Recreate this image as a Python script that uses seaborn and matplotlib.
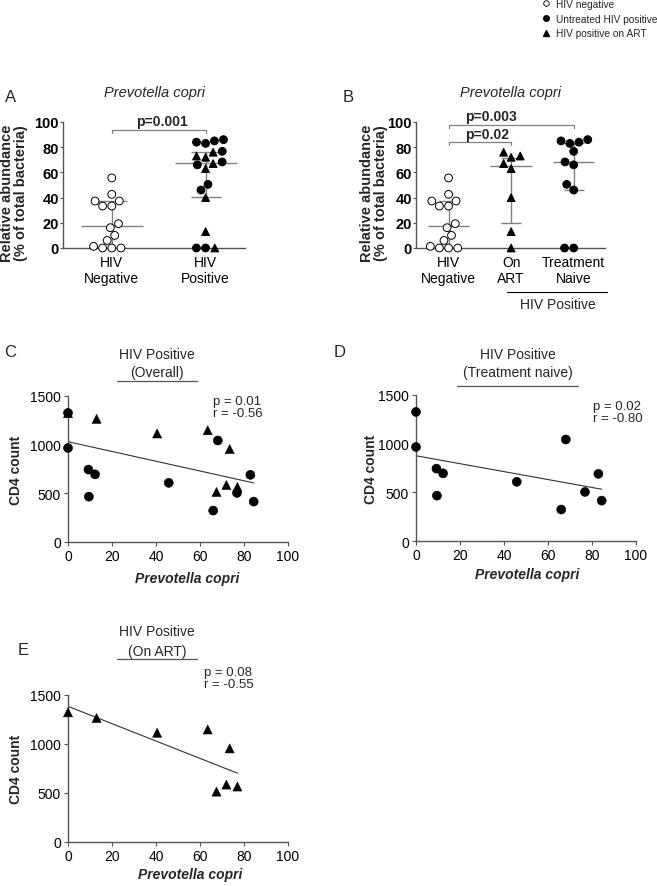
import numpy as np
import pandas as pd
import matplotlib
matplotlib.use("Agg")
import matplotlib.pyplot as plt
import seaborn as sns
from matplotlib.markers import MarkerStyle
from matplotlib.lines import Line2D

# Prevotella copri relative abundance (% of total bacteria)
neg_copri = [55.6, 42.6, 37.3, 37.3, 33.3, 33.3, 19.3, 16.1, 10, 6, 0, 0, 0, 1.3]
naive_copri = [86, 83, 84, 85, 76.7, 66, 68.3, 50.5, 46, 0, 0]
art_copri = [76, 72, 73, 67, 63, 40, 13, 0]

# median / interquartile range drawn on the dot plots
groups_A = ["HIV\nNegative", "HIV\nPositive"]
med_A = [17.5, 67.5]
q1_A = [0, 40.5]
q3_A = [37.5, 76.5]

groups_B = ["HIV\nNegative", "On\nART", "Treatment\nNaive"]
med_B = [17.5, 65, 68.3]
q1_B = [0, 20, 46.3]
q3_B = [37.5, 71.5, 83]

# CD4 count vs P. copri
naive_x = [0, 0, 9.3, 12.3, 9.5, 45.8, 68.1, 66, 76.8, 82.9, 84.4]
naive_cd4 = [1326, 966, 744, 695, 466, 608, 1043, 323, 504, 690, 415]
art_x = [0, 13, 40.5, 63.5, 73.5, 67.5, 72, 77]
art_cd4 = [1323, 1265, 1115, 1148, 955, 514, 586, 566]

stat_labels = ["p = 0.01\nr = -0.56", "p = 0.02\nr = -0.80", "p = 0.08\nr = -0.55"]
cd4_titles = ["(Overall)", "(Treatment naive)", "(On ART)"]

sns.set_style("ticks")
plt.rcParams["font.family"] = ["Liberation Sans", "DejaVu Sans"]

W, H = 657, 887
def fx(x):
    return x / W
def fy(y):
    return 1 - y / H

GRAY = "#555555"
LGRAY = "#808080"

fig = plt.figure(figsize=(6.57, 8.87), dpi=100)

def mk_path(m):
    ms = MarkerStyle(m)
    return ms.get_path().transformed(ms.get_transform())

CIRC = mk_path("o")
TRI = mk_path("^")
pal = {"neg": "white", "naive": "black", "art": "black"}


def style_axes(ax):
    sns.despine(ax=ax)
    for s in ["left", "bottom"]:
        ax.spines[s].set_color(GRAY)
        ax.spines[s].set_linewidth(1.0)
    ax.tick_params(colors=GRAY, labelcolor="black", width=0.8, length=3)


def dot_panel(ax, df, order, med, q1, q3, xmax):
    sns.swarmplot(data=df, x="group", y="copri", hue="status", order=order,
                  palette=pal, edgecolor="black", linewidth=0.7, size=5.6,
                  legend=False, ax=ax, clip_on=False, zorder=3)
    for coll, g in zip(ax.collections, order):
        kinds = df.loc[df.group == g, "status"]
        coll.set_paths([TRI if k == "art" else CIRC for k in kinds])
        coll.set_clip_on(False)
    for i, (m, a, b) in enumerate(zip(med, q1, q3)):
        ax.hlines(m, i - 0.33, i + 0.33, color=LGRAY, lw=1, zorder=2)
        ax.vlines(i, a, b, color=LGRAY, lw=1, zorder=2)
        ax.hlines([a, b], i - 0.16, i + 0.16, color=LGRAY, lw=1, zorder=2)
    ax.set_ylim(0, 100)
    ax.set_xlim(-0.52, xmax)
    ax.set_yticks(range(0, 101, 20))
    style_axes(ax)
    ax.tick_params(axis="x", length=0, pad=5, labelsize=10)
    ax.tick_params(axis="y", labelsize=10.5, length=2, pad=1)
    for lbl in ax.get_yticklabels():
        lbl.set_fontweight("bold")
    ax.set_xlabel("")
    ax.set_ylabel("Relative abundance\n(% of total bacteria)", fontsize=10.5,
                  fontweight="bold", linespacing=1.0)
    ax.set_title("Prevotella copri", style="italic", fontsize=10.5, pad=19)


def bracket(ax, x0, x1, y, txt, tx):
    ax.plot([x0, x0, x1, x1], [y - 2.5, y, y, y - 2.5], color=LGRAY, lw=0.9,
            clip_on=False)
    ax.text(tx, y + 1.2, txt, fontsize=10, fontweight="bold", ha="left",
            va="bottom")


# ---- A ----
dfA = pd.DataFrame({
    "group": [groups_A[0]] * len(neg_copri) + [groups_A[1]] * (len(naive_copri) + len(art_copri)),
    "status": ["neg"] * len(neg_copri) + ["naive"] * len(naive_copri) + ["art"] * len(art_copri),
    "copri": neg_copri + naive_copri + art_copri,
})
axA = fig.add_axes([fx(63), fy(249), 182 / W, 126 / H])
dot_panel(axA, dfA, groups_A, med_A, q1_A, q3_A, 1.42)
axA.yaxis.set_label_coords(-0.19, 0.44)
bracket(axA, 0, 1, 94, "p=0.001", 0.26)

# ---- B ----
dfB = pd.DataFrame({
    "group": [groups_B[0]] * len(neg_copri) + [groups_B[1]] * len(art_copri) + [groups_B[2]] * len(naive_copri),
    "status": ["neg"] * len(neg_copri) + ["art"] * len(art_copri) + ["naive"] * len(naive_copri),
    "copri": neg_copri + art_copri + naive_copri,
})
axB = fig.add_axes([fx(416), fy(249), 189 / W, 126 / H])
dot_panel(axB, dfB, groups_B, med_B, q1_B, q3_B, 2.5)
axB.yaxis.set_label_coords(-0.15, 0.44)
bracket(axB, 0, 2, 98, "p=0.003", 0.26)
bracket(axB, 0, 1, 84, "p=0.02", 0.26)
fig.add_artist(Line2D([fx(507), fx(607)], [fy(293)] * 2, color="black", lw=0.8))
fig.text(fx(558), fy(305), "HIV Positive", ha="center", va="center", fontsize=10)


# ---- C, D, E ----
def cd4_panel(ax, d, stat, tx, ty, xlab, ylab_x):
    sns.scatterplot(data=d, x="copri", y="cd4", style="status",
                    markers={"naive": "o", "art": "^"}, color="black", s=42,
                    edgecolor="black", linewidth=0.4, legend=False, ax=ax,
                    clip_on=False, zorder=3)
    sns.regplot(data=d, x="copri", y="cd4", scatter=False, ci=None,
                truncate=True, color="#333333", line_kws={"lw": 0.8}, ax=ax)
    ax.set_xlim(0, 100)
    ax.set_ylim(0, 1500)
    ax.set_xticks(range(0, 101, 20))
    ax.set_yticks([0, 500, 1000, 1500])
    style_axes(ax)
    ax.tick_params(labelsize=10, pad=2)
    ax.set_xlabel("Prevotella copri", fontsize=10, fontweight="bold",
                  style="italic")
    ax.set_ylabel("CD4 count", fontsize=10, fontweight="bold")
    ax.xaxis.set_label_coords(*xlab)
    ax.yaxis.set_label_coords(ylab_x, 0.5)
    fig.text(fx(tx), fy(ty), stat, fontsize=9.5, va="top", ha="left",
             linespacing=0.95)


dC = pd.DataFrame({"copri": naive_x + art_x, "cd4": naive_cd4 + art_cd4,
                   "status": ["naive"] * len(naive_x) + ["art"] * len(art_x)})
dD = pd.DataFrame({"copri": naive_x, "cd4": naive_cd4,
                   "status": ["naive"] * len(naive_x)})
dE = pd.DataFrame({"copri": art_x, "cd4": art_cd4,
                   "status": ["art"] * len(art_x)})

axC = fig.add_axes([fx(68), fy(543), 220 / W, 146 / H])
cd4_panel(axC, dC, stat_labels[0], 213, 396, (0.54, -0.2), -0.205)
axD = fig.add_axes([fx(416), fy(542), 220 / W, 146 / H])
cd4_panel(axD, dD, stat_labels[1], 593, 401, (0.505, -0.18), -0.173)
axE = fig.add_axes([fx(68), fy(843), 220 / W, 147 / H])
cd4_panel(axE, dE, stat_labels[2], 204, 667, (0.555, -0.17), -0.205)

# titles with underline
for cx, y1, y2, yl, x0, x1, sub in [(157, 355, 373, 382, 117, 197, cd4_titles[0]),
                                     (518, 355, 373, 387, 457, 578, cd4_titles[1]),
                                     (157, 632, 652, 660, 117, 197, cd4_titles[2])]:
    fig.text(fx(cx), fy(y1), "HIV Positive", ha="center", va="center", fontsize=10)
    fig.text(fx(cx), fy(y2), sub, ha="center", va="center", fontsize=10)
    fig.add_artist(Line2D([fx(x0), fx(x1)], [fy(yl)] * 2, color=GRAY, lw=0.9))

# panel letters
for lt, x, y in [("A", 11, 98), ("B", 348, 98), ("C", 10, 353), ("D", 340, 353), ("E", 23, 651)]:
    fig.text(fx(x), fy(y), lt, ha="center", va="center", fontsize=12)

# legend
handles = [
    Line2D([], [], marker="o", ls="", mfc="white", mec="black", ms=4, mew=0.6),
    Line2D([], [], marker="o", ls="", mfc="black", mec="black", ms=4),
    Line2D([], [], marker="^", ls="", mfc="black", mec="black", ms=4),
]
fig.legend(handles, ["HIV negative", "Untreated HIV positive", "HIV positive on ART"],
           loc="upper left", bbox_to_anchor=(fx(542), fy(0)), frameon=False,
           fontsize=7.3, handlelength=0.8, handletextpad=0.6, labelspacing=0.45,
           borderpad=0, borderaxespad=0)

fig.savefig("out.png", dpi=100)
